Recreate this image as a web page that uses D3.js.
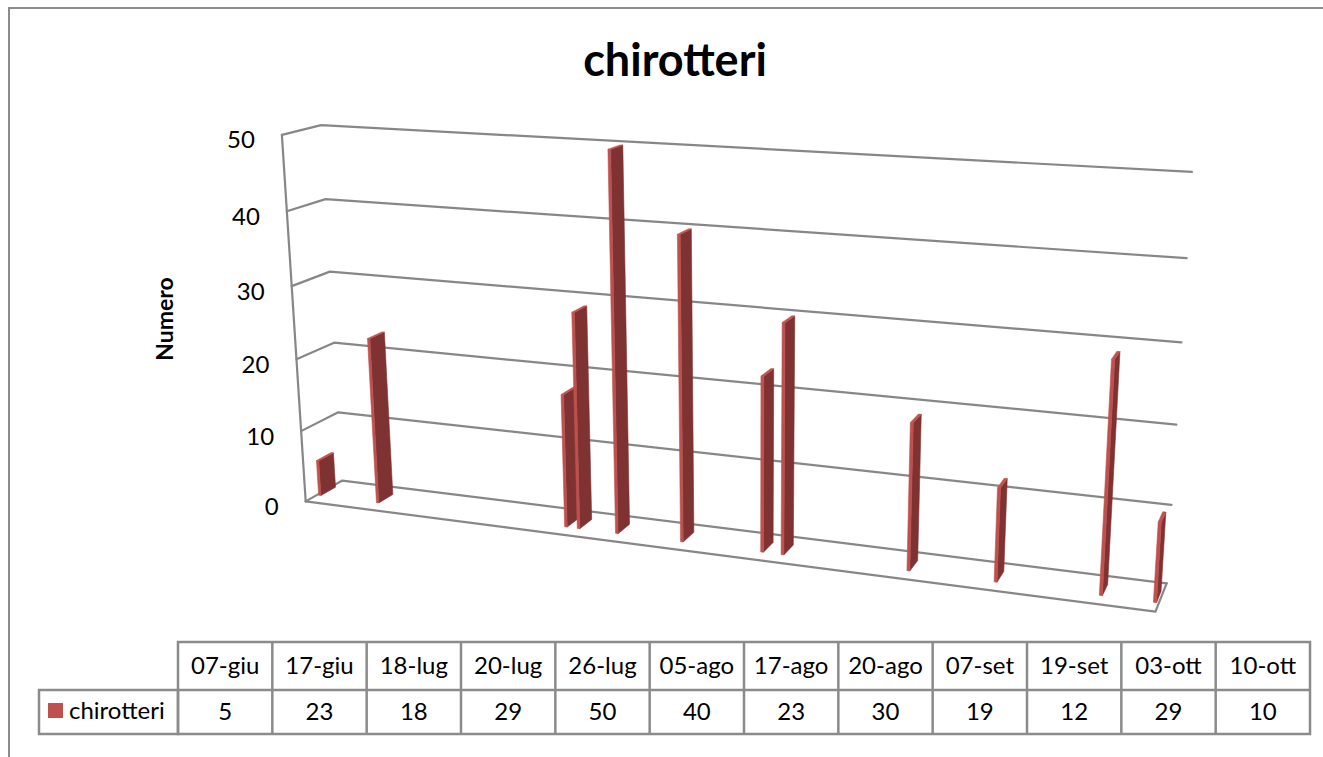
<!DOCTYPE html>
<html>
<head>
<meta charset="utf-8">
<script src="https://cdn.jsdelivr.net/npm/d3@7"></script>
<style>
  html, body { margin: 0; padding: 0; background: #ffffff; overflow: hidden; }
  svg { display: block; font-family: Lato, "Noto Sans", sans-serif; }
</style>
</head>
<body>
<script>
// ---- data -------------------------------------------------------------
const seriesName = "chirotteri";
const dateLabels = ["07-giu", "17-giu", "18-lug", "20-lug", "26-lug", "05-ago",
                    "17-ago", "20-ago", "07-set", "19-set", "03-ott", "10-ott"];
const counts = [5, 23, 18, 29, 50, 40, 23, 30, 19, 12, 29, 10];
const valueDomain = [0, 50];
const chartTitle = "chirotteri";
const valueAxisTitle = "Numero";

// ---- layout -----------------------------------------------------------
const W = 1323, H = 757;
const colors = {
  grid: "#878787",
  front: "#c0504d",
  side: "#7e3231",
  top: "#c4514e",
  border: "#8b8b8b",
  text: "#000000"
};

// Screen anchors of the plot cube corners (world x: time 0..1, y: value 0..1, z: depth 0 front..1 back)
const cubeAnchors = [
  { w: [0, 1, 0], s: [283, 134] },
  { w: [0, 1, 1], s: [320, 126] },
  { w: [0, 0, 0], s: [305, 502] },
  { w: [0, 0, 1], s: [343, 480] },
  { w: [1, 1, 1], s: [1192, 172] },
  { w: [1, 0, 1], s: [1167, 583] },
  { w: [1, 0, 0], s: [1155, 612] }
];

// Least-squares fit of a 3x4 perspective projection (p23 = 1)
function fitProjection(pairs) {
  const cx = 700, cy = 370, sc = 500;
  const A = [], b = [];
  pairs.forEach(({ w: [X, Y, Z], s: [u0, v0] }) => {
    const u = (u0 - cx) / sc, v = (v0 - cy) / sc;
    A.push([X, Y, Z, 1, 0, 0, 0, 0, -u * X, -u * Y, -u * Z]); b.push(u);
    A.push([0, 0, 0, 0, X, Y, Z, 1, -v * X, -v * Y, -v * Z]); b.push(v);
  });
  const n = 11;
  const M = Array.from({ length: n }, () => new Array(n + 1).fill(0));
  for (let r = 0; r < A.length; r++) {
    for (let i = 0; i < n; i++) {
      for (let j = 0; j < n; j++) M[i][j] += A[r][i] * A[r][j];
      M[i][n] += A[r][i] * b[r];
    }
  }
  for (let c = 0; c < n; c++) {
    let piv = c;
    for (let r = c + 1; r < n; r++) if (Math.abs(M[r][c]) > Math.abs(M[piv][c])) piv = r;
    [M[c], M[piv]] = [M[piv], M[c]];
    for (let r = 0; r < n; r++) {
      if (r === c) continue;
      const f = M[r][c] / M[c][c];
      for (let k = c; k <= n; k++) M[r][k] -= f * M[c][k];
    }
  }
  const p = M.map((row, i) => row[n] / row[i]);
  return ([X, Y, Z]) => {
    const d = p[8] * X + p[9] * Y + p[10] * Z + 1;
    const u = (p[0] * X + p[1] * Y + p[2] * Z + p[3]) / d;
    const v = (p[4] * X + p[5] * Y + p[6] * Z + p[7]) / d;
    return [u * sc + cx, v * sc + cy];
  };
}
const project = fitProjection(cubeAnchors);

// ---- scales -----------------------------------------------------------
const itLocale = d3.timeFormatLocale({
  dateTime: "%A %e %B %Y, %X", date: "%d/%m/%Y", time: "%H:%M:%S",
  periods: ["AM", "PM"],
  days: ["domenica", "lunedì", "martedì", "mercoledì", "giovedì", "venerdì", "sabato"],
  shortDays: ["dom", "lun", "mar", "mer", "gio", "ven", "sab"],
  months: ["gennaio", "febbraio", "marzo", "aprile", "maggio", "giugno", "luglio",
           "agosto", "settembre", "ottobre", "novembre", "dicembre"],
  shortMonths: ["gen", "feb", "mar", "apr", "mag", "giu", "lug", "ago", "set", "ott", "nov", "dic"]
});
const parseDay = itLocale.utcParse("%d-%b");
const dates = dateLabels.map(parseDay);
const rows = dates.map((d, i) => ({ date: d, label: dateLabels[i], value: counts[i] }));

const x = d3.scaleUtc()
  .domain([dates[0], d3.utcDay.offset(dates[dates.length - 1], 1)])
  .range([0, 1]);
const y = d3.scaleLinear().domain(valueDomain).range([0, 1]);
const depth = { front: 0.3, back: 0.7 };
const barShare = 0.4; // column width relative to one-day slot

const svg = d3.select("body").append("svg")
  .attr("width", W).attr("height", H)
  .attr("viewBox", `0 0 ${W} ${H}`);

svg.append("rect").attr("width", W).attr("height", H).attr("fill", "#fff");

// chart frame (left and top edges fall inside the page)
svg.append("path")
  .attr("d", `M9,${H}V8H${W}`)
  .attr("fill", "none").attr("stroke", colors.border).attr("stroke-width", 2);

// title
svg.append("text")
  .attr("x", 675).attr("y", 76)
  .attr("text-anchor", "middle")
  .attr("font-size", 45).attr("font-weight", "bold")
  .attr("fill", colors.text)
  .text(chartTitle);

// ---- walls and grid ---------------------------------------------------
const line3 = pts => "M" + pts.map(p => project(p).join(",")).join("L");
const grid = svg.append("g").attr("fill", "none")
  .attr("stroke", colors.grid).attr("stroke-width", 2.2)
  .attr("stroke-linejoin", "round").attr("stroke-linecap", "round");

const ticks = y.ticks(5);
ticks.forEach(t => {
  const yy = y(t);
  grid.append("path").attr("d", line3([[0, yy, 0], [0, yy, 1], [1, yy, 1]]));
});
// value axis edge, floor outline
grid.append("path").attr("d", line3([[0, 1, 0], [0, 0, 0]]));
grid.append("path").attr("d", line3([[0, 0, 0], [1, 0, 0], [1, 0, 1]]));

// value tick labels
svg.append("g").selectAll("text").data(ticks).join("text")
  .attr("x", t => project([0, y(t), 0])[0] - 27)
  .attr("y", t => project([0, y(t), 0])[1] + 4)
  .attr("text-anchor", "end")
  .attr("dominant-baseline", "central")
  .attr("font-size", 24)
  .attr("fill", colors.text)
  .text(d3.format("d"));

// value axis title
svg.append("text")
  .attr("transform", "translate(173,319) rotate(-90)")
  .attr("text-anchor", "middle")
  .attr("font-size", 23).attr("font-weight", "bold")
  .attr("fill", colors.text)
  .text(valueAxisTitle);

// ---- columns ----------------------------------------------------------
const poly = pts => "M" + pts.map(p => project(p).join(",")).join("L") + "Z";
const bars = svg.append("g");
rows.forEach(r => {
  const x0s = x(r.date), x1s = x(d3.utcDay.offset(r.date, 1));
  const c = (x0s + x1s) / 2, hw = (x1s - x0s) * barShare / 2;
  const a = c - hw, b = c + hw;
  const h = y(r.value);
  const zf = depth.front, zb = depth.back;
  const g = bars.append("g").attr("stroke-linejoin", "round");
  // right side
  g.append("path").attr("d", poly([[b, 0, zf], [b, 0, zb], [b, h, zb], [b, h, zf]]))
    .attr("fill", colors.side).attr("stroke", colors.side).attr("stroke-width", 0.6);
  // front
  g.append("path").attr("d", poly([[a, 0, zf], [b, 0, zf], [b, h, zf], [a, h, zf]]))
    .attr("fill", colors.front).attr("stroke", colors.front).attr("stroke-width", 0.6);
  // top
  g.append("path").attr("d", poly([[a, h, zf], [b, h, zf], [b, h, zb], [a, h, zb]]))
    .attr("fill", colors.top).attr("stroke", colors.top).attr("stroke-width", 0.6);
});

// ---- data table -------------------------------------------------------
const table = { left: 178, right: 1310, top: 642, mid: 690, bottom: 734, keyLeft: 39 };
const col = d3.scaleBand().domain(dateLabels).range([table.left, table.right]);
const tg = svg.append("g");
const tl = tg.append("g").attr("stroke", colors.border).attr("stroke-width", 2.5).attr("fill", "none");
tl.append("rect").attr("x", table.left).attr("y", table.top)
  .attr("width", table.right - table.left).attr("height", table.bottom - table.top);
tl.append("rect").attr("x", table.keyLeft).attr("y", table.mid)
  .attr("width", table.left - table.keyLeft).attr("height", table.bottom - table.mid);
tl.append("line").attr("x1", table.left).attr("x2", table.right)
  .attr("y1", table.mid).attr("y2", table.mid);
tl.selectAll("line.v").data(dateLabels.slice(1)).join("line").attr("class", "v")
  .attr("x1", d => col(d)).attr("x2", d => col(d))
  .attr("y1", table.top).attr("y2", table.bottom);

tg.selectAll("text.h").data(rows).join("text").attr("class", "h")
  .attr("x", d => col(d.label) + col.bandwidth() / 2)
  .attr("y", 674)
  .attr("text-anchor", "middle").attr("font-size", 24).attr("fill", colors.text)
  .text(d => d.label);
tg.selectAll("text.v").data(rows).join("text").attr("class", "v")
  .attr("x", d => col(d.label) + col.bandwidth() / 2)
  .attr("y", 720)
  .attr("text-anchor", "middle").attr("font-size", 24).attr("fill", colors.text)
  .text(d => d.value);

tg.append("rect").attr("x", 48).attr("y", 703).attr("width", 15).attr("height", 15)
  .attr("fill", colors.front);
tg.append("text").attr("x", 69).attr("y", 719)
  .attr("font-size", 24).attr("fill", colors.text)
  .text(seriesName);
</script>
</body>
</html>
